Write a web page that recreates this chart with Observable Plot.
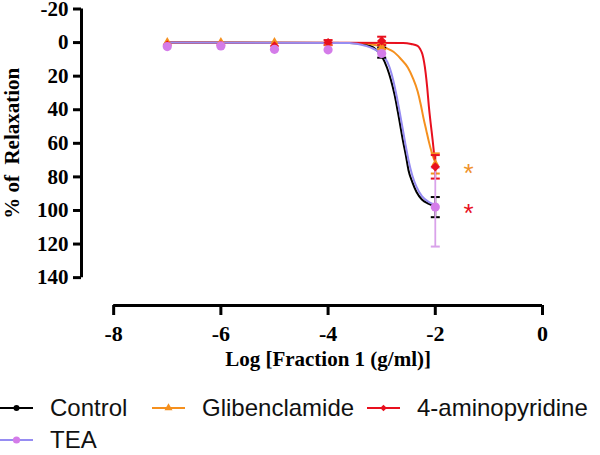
<!DOCTYPE html>
<html><head><meta charset="utf-8">
<script src="https://cdn.jsdelivr.net/npm/d3@7"></script>
<script src="https://cdn.jsdelivr.net/npm/@observablehq/plot@0.6"></script>
<style>
body{margin:0;background:#fff;width:600px;height:455px;overflow:hidden}
#legend{position:relative;height:80px;font-family:"Liberation Sans",Arial,sans-serif;font-size:24px;color:#111}
.item{position:absolute;display:flex;align-items:center;height:28px;white-space:nowrap}
.item svg{margin-right:17px;flex:none}
</style></head><body>
<div id="chart"></div><div id="legend"></div>
<script>
// ---- data ----
const doses = [-7, -6, -5, -4, -3, -2];           // log [Fraction 1 (g/ml)]
const seriesNames = ["Control", "Glibenclamide", "4-aminopyridine", "TEA"];

const controlMean = [0.5, 0.5, 0.5, 0, 6, 98];
const controlSem  = [0, 0, 0, 0, 3, 6];
const glibMean    = [-0.5, -0.5, -0.5, 0.5, 2.5, 72];
const glibSem     = [0, 0, 0, 0, 1.5, 6];
const apMean      = [1.5, 1.5, 2, 0, -1, 74];
const apSem       = [0, 0, 0, 1.5, 2.5, 7];
const teaMean     = [2.4, 2, 4, 4.3, 6.5, 98];
const teaSem      = [0, 0, 0, 0, 0, 23.5];

// fitted curves
const controlCurveX = [-7, -3.6, -3.35, -3.15, -3.0, -2.9, -2.83, -2.76, -2.7, -2.65, -2.6, -2.55, -2.5, -2.43, -2.35, -2.25, -2.12, -2.0];
const controlCurveY = [0, 0.2, 0.8, 3, 8, 15, 22, 31, 41, 50, 59, 67, 76, 83, 89, 93.5, 96, 97.5];
const glibCurveX    = [-7, -3.4, -3.2, -3.0, -2.9, -2.78, -2.65, -2.51, -2.42, -2.33, -2.27, -2.22, -2.17, -2.12, -2.07, -2.03, -2.0];
const glibCurveY    = [0, 0.3, 1, 2.3, 3.5, 5.5, 9.5, 15, 21, 29, 37, 45, 52, 59, 65, 69, 71];
const apCurveX      = [-7, -2.6, -2.45, -2.33, -2.28, -2.24, -2.18, -2.15, -2.12, -2.09, -2.05, -2.02, -2.0];
const apCurveY      = [0, 0.2, 0.8, 2, 4, 7, 18, 27, 38, 47, 58, 67, 72];
const teaCurveX     = [-7, -3.6, -3.4, -3.2, -3.05, -2.95, -2.85, -2.78, -2.72, -2.66, -2.61, -2.56, -2.5, -2.43, -2.35, -2.25, -2.12, -2.0];
const teaCurveY     = [0, 0.3, 1.2, 3, 5.5, 8.5, 15, 23, 32, 42, 51, 60, 70, 79, 86, 91.5, 95, 96.5];

const yTicks = [-20, 0, 20, 40, 60, 80, 100, 120, 140];
const xTicks = [-8, -6, -4, -2, 0];
const xTitle = "Log [Fraction 1 (g/ml)]";
const yTitle = "% of  Relaxation";
const starX = [-1.38, -1.38];
const starY = [75, 99];
const starColor = ["#f0912a", "#e8101e"];

// ---- styling ----
const lineColors   = ["#000000", "#f5901e", "#e8101e", "#968cf2"];
const markerColors = ["#000000", "#f5901e", "#e8101e", "#d47ce9"];
const barColors    = ["#000000", "#f5901e", "#e8101e", "#d9a2ea"];
const symbols = ["circle", "triangle", "diamond2", "circle"];
const radii = [2.6, 3.0, 4.2, 4.6];
const means = [controlMean, glibMean, apMean, teaMean];
const sems = [controlSem, glibSem, apSem, teaSem];
const curvesX = [controlCurveX, glibCurveX, apCurveX, teaCurveX];
const curvesY = [controlCurveY, glibCurveY, apCurveY, teaCurveY];

const xMin = -8.6, xMax = 0;           // plotting window
const yTop = -20, yAxisEnd = 140, yMax = 156.6;

const capSymbol = {draw(ctx, size) { const w = Math.sqrt(size / Math.PI); ctx.moveTo(-w, 0); ctx.lineTo(w, 0); }};

const marks = [];
const serif = "'Liberation Serif','Times New Roman',serif";

// axes
marks.push(Plot.ruleX([xMin], {y1: yTop, y2: yAxisEnd, strokeWidth: 3, stroke: "#000"}));
marks.push(Plot.ruleY([yMax], {x1: xTicks[0], x2: xTicks[xTicks.length - 1], strokeWidth: 3, stroke: "#000"}));
marks.push(Plot.axisY({anchor: "left", ticks: yTicks, tickSize: 8, tickPadding: 5, strokeWidth: 3,
  tickFormat: d => String(d), fontSize: 21, fontWeight: "bold", fontFamily: serif, fill: "#000", label: null}));
marks.push(Plot.axisX({anchor: "bottom", ticks: xTicks, tickSize: 10, tickPadding: 10, strokeWidth: 3,
  tickFormat: d => String(d), fontSize: 22, fontWeight: "bold", fontFamily: serif, fill: "#000", label: null}));

// curves
seriesNames.forEach((s, k) => {
  const rows = curvesX[k].map((x, i) => ({x, y: curvesY[k][i]}));
  marks.push(Plot.line(rows, {x: "x", y: "y", curve: "monotone-x", stroke: lineColors[k], strokeWidth: 2}));
});
// error bars
seriesNames.forEach((s, k) => {
  const rows = doses.map((x, i) => ({x, m: means[k][i], e: sems[k][i]})).filter(d => d.e > 0);
  const caps = rows.flatMap(d => [{x: d.x, y: d.m - d.e}, {x: d.x, y: d.m + d.e}]);
  marks.push(Plot.ruleX(rows, {x: "x", y1: d => d.m - d.e, y2: d => d.m + d.e, stroke: barColors[k], strokeWidth: 1.8}));
  marks.push(Plot.dot(caps, {x: "x", y: "y", symbol: capSymbol, r: 4.5, stroke: barColors[k], strokeWidth: 2}));
});
// markers
seriesNames.forEach((s, k) => {
  const rows = doses.map((x, i) => ({x, y: means[k][i]}));
  marks.push(Plot.dot(rows, {x: "x", y: "y", symbol: symbols[k], r: radii[k], fill: markerColors[k], stroke: "none"}));
});
// significance stars
marks.push(Plot.text(starX.map((x, i) => ({x, y: starY[i], c: starColor[i]})),
  {x: "x", y: "y", text: () => "*", fill: d => d.c, fontSize: 26, fontFamily: "'Liberation Sans',Arial", dy: 5}));
// axis titles
marks.push(Plot.text([xTitle], {x: (xTicks[0] + xTicks[xTicks.length - 1]) / 2, frameAnchor: "bottom", dy: 60,
  text: d => d, fontSize: 21, fontWeight: "bold", fontFamily: serif, fill: "#000"}));
marks.push(Plot.text([yTitle], {y: (yTop + yAxisEnd) / 2, frameAnchor: "left", dx: -69, rotate: -90, textAnchor: "middle",
  text: d => d, fontSize: 21, fontWeight: "bold", fontFamily: serif, fill: "#000", style: "letter-spacing:0.6px"}));

const chart = Plot.plot({
  width: 600, height: 375,
  marginLeft: 81, marginRight: 58, marginTop: 8.5, marginBottom: 70,
  x: {domain: [xMin, xMax]},
  y: {domain: [yTop, yMax], reverse: true},
  color: {type: "identity"},
  style: {background: "white", overflow: "visible"},
  marks
});
document.getElementById("chart").append(chart);

// ---- legend ----
const legendPos = [[0, 19], [152, 19], [367, 19], [0, 51]];
const legend = document.getElementById("legend");
seriesNames.forEach((s, k) => {
  const div = document.createElement("div");
  div.className = "item";
  div.style.left = legendPos[k][0] + "px";
  div.style.top = legendPos[k][1] + "px";
  const sym = {circle: d3.symbolCircle, triangle: d3.symbolTriangle, diamond2: d3.symbolDiamond2}[symbols[k]];
  const path = d3.symbol(sym, Math.PI * Math.pow(k === 3 ? 3.6 : 3, 2))();
  div.innerHTML = `<svg width="33" height="14"><line x1="0" x2="33" y1="7" y2="7" stroke="${lineColors[k]}" stroke-width="2"/>` +
    `<path transform="translate(16.5,7)" d="${path}" fill="${markerColors[k]}"/></svg><span>${s}</span>`;
  legend.append(div);
});
</script>
</body></html>
